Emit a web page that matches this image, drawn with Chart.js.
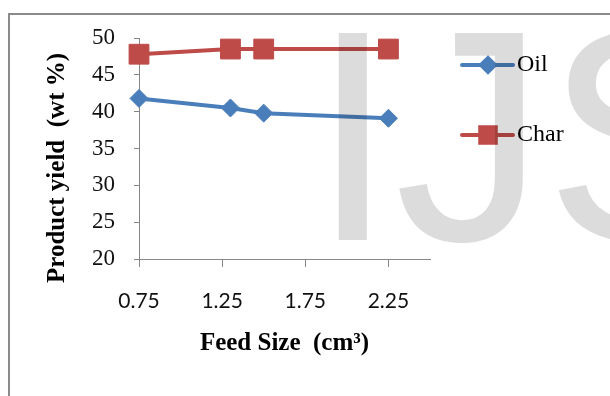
<!DOCTYPE html>
<html>
<head>
<meta charset="utf-8">
<script src="https://cdn.jsdelivr.net/npm/chart.js@4.4.0/dist/chart.umd.min.js"></script>
<style>
  html, body { margin: 0; padding: 0; background: #fff; }
</style>
</head>
<body>
<canvas id="yieldChart" width="610" height="396"></canvas>
<script>
// Feed size (cm3) against product yield (wt %)
const feedSizes = [0.75, 1.3, 1.5, 2.25];
const oilYield = [41.8, 40.5, 39.8, 39.1];
const charYield = [47.8, 48.5, 48.5, 48.5];
const seriesNames = ['Oil', 'Char'];
const xTicks = [0.75, 1.25, 1.75, 2.25];
const yTicks = [20, 25, 30, 35, 40, 45, 50];

const BLUE = '#4a7ebb';
const RED = '#be4b48';
const AXIS = '#868686';
const SERIF = '"Liberation Serif", "Times New Roman", serif';

const toPoints = ys => feedSizes.map((x, i) => ({ x: x, y: ys[i] }));

// frame, y title, legend and the faint watermark on top
const decor = {
    id: 'decor',
    beforeDraw(chart) {
        const ctx = chart.ctx;
        ctx.save();
        ctx.fillStyle = '#fff';
        ctx.fillRect(0, 0, chart.width, chart.height);
        ctx.strokeStyle = '#8a8a8a';
        ctx.lineWidth = 2;
        ctx.strokeRect(9, 14, 700, 500);
        ctx.restore();
    },
    afterDraw(chart) {
        const ctx = chart.ctx;
        const area = chart.chartArea;

        // y axis title
        ctx.save();
        ctx.translate(58, 168);
        ctx.rotate(-Math.PI / 2);
        ctx.font = 'bold 25px ' + SERIF;
        ctx.fillStyle = '#000';
        ctx.textAlign = 'center';
        ctx.textBaseline = 'middle';
        ctx.fillText('Product yield  (wt %)', 0, 0);
        ctx.restore();

        // legend: line + marker + name
        chart.data.datasets.forEach((ds, i) => {
            const y = area.top + 27 + i * 70;
            const x0 = area.right + 32;
            ctx.save();
            ctx.strokeStyle = ds.borderColor;
            ctx.lineWidth = 4;
            ctx.lineCap = 'round';
            ctx.beginPath();
            ctx.moveTo(x0, y);
            ctx.lineTo(x0 + 51, y);
            ctx.stroke();
            Chart.helpers.drawPoint(ctx, {
                pointStyle: ds.pointStyle,
                radius: ds.pointStyle === 'rect' ? 11 : 7,
                borderWidth: 1,
                rotation: 0
            }, x0 + 26, y);
            ctx.fillStyle = ds.borderColor;
            ctx.fill();
            ctx.font = '24px ' + SERIF;
            ctx.fillStyle = '#000';
            ctx.textBaseline = 'middle';
            ctx.fillText(ds.label, x0 + 55, y);
            ctx.restore();
        });

        ctx.save();
        ctx.globalCompositeOperation = 'multiply';
        ctx.font = '301px "Liberation Sans", Arial, sans-serif';
        ctx.fillStyle = '#dcdcdc';
        ctx.textBaseline = 'alphabetic';
        ctx.fillText('IJS', 311, 240);
        ctx.restore();
    }
};

new Chart(document.getElementById('yieldChart'), {
    type: 'line',
    data: {
        datasets: [
            {
                label: seriesNames[0],
                data: toPoints(oilYield),
                borderColor: BLUE,
                backgroundColor: BLUE,
                borderWidth: 4,
                pointStyle: 'rectRot',
                pointRadius: 9,
                pointBorderWidth: 1,
                tension: 0,
                clip: false
            },
            {
                label: seriesNames[1],
                data: toPoints(charYield),
                borderColor: RED,
                backgroundColor: RED,
                borderWidth: 4,
                pointStyle: 'rect',
                pointRadius: 14,
                pointBorderWidth: 1,
                tension: 0,
                clip: false
            }
        ]
    },
    options: {
        responsive: false,
        animation: false,
        layout: { padding: { left: 0, top: 38, right: 180, bottom: 37 } },
        plugins: {
            legend: { display: false },
            tooltip: { enabled: false }
        },
        scales: {
            x: {
                type: 'linear',
                min: 0.75,
                max: 2.5,
                afterFit(scale) { scale.height = 100; },
                afterBuildTicks(scale) { scale.ticks = xTicks.map(v => ({ value: v })); },
                grid: { drawOnChartArea: false, tickLength: 8, color: AXIS },
                border: { color: AXIS },
                ticks: {
                    padding: 22,
                    color: '#111',
                    font: { family: 'Lato', size: 21 },
                    callback: v => v.toFixed(2)
                },
                title: {
                    display: true,
                    text: 'Feed Size  (cm³)',
                    color: '#000',
                    padding: { top: 0, bottom: 0 },
                    font: { family: SERIF, size: 25, weight: 'bold' }
                }
            },
            y: {
                min: yTicks[0],
                max: yTicks[yTicks.length - 1],
                afterFit(scale) { scale.width = 139; },
                afterBuildTicks(scale) { scale.ticks = yTicks.map(v => ({ value: v })); },
                grid: { drawOnChartArea: false, tickLength: 5, color: AXIS },
                border: { color: AXIS },
                ticks: {
                    padding: 19,
                    color: '#111',
                    font: { family: SERIF, size: 23 }
                }
            }
        }
    },
    plugins: [decor]
});
</script>
</body>
</html>
